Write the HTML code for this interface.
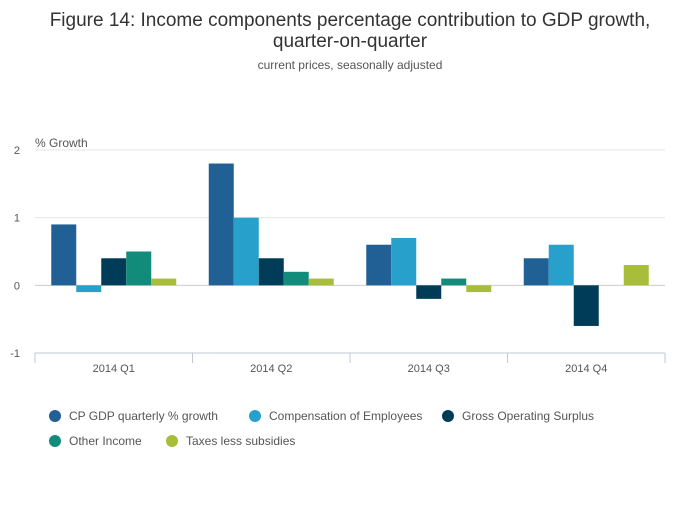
<!DOCTYPE html>
<html><head><meta charset="utf-8"><style>
body{margin:0;background:#fff;font-family:"Liberation Sans",sans-serif;}
svg text{font-family:"Liberation Sans",sans-serif;}
</style></head><body>
<svg id="chart" width="700" height="502">
<text x="350" y="26" text-anchor="middle" font-size="19" fill="#333">Figure 14: Income components percentage contribution to GDP growth,</text>
<text x="350" y="47" text-anchor="middle" font-size="19" fill="#333">quarter-on-quarter</text>
<text x="350" y="69" text-anchor="middle" font-size="12" fill="#555">current prices, seasonally adjusted</text>
<text x="35" y="147" font-size="12" fill="#555">% Growth</text>
<g id="grid"></g><g id="bars"></g><g id="xaxis"></g><g id="legend"></g>
</svg>
<script>
const categories=["2014 Q1","2014 Q2","2014 Q3","2014 Q4"];
const seriesNames=["CP GDP quarterly % growth","Compensation of Employees","Gross Operating Surplus","Other Income","Taxes less subsidies"];
const gdp=[0.9,1.8,0.6,0.4];
const comp=[-0.1,1.0,0.7,0.6];
const gos=[0.4,0.4,-0.2,-0.6];
const other=[0.5,0.2,0.1,0];
const taxes=[0.1,0.1,-0.1,0.3];
const yTicks=[2,1,0,-1];
const colors=["#206095","#27a0cc","#003c57","#118c7b","#a8bd3a"];
const series=[gdp,comp,gos,other,taxes];
const NS="http://www.w3.org/2000/svg";
const x0=35,x1=665,yTop=150,yBot=353,yMax=2,yMin=-1;
function y(v){return yTop+(yMax-v)/(yMax-yMin)*(yBot-yTop);}
const bw=(x1-x0)/categories.length;
function mk(tag,attrs,parent){const e=document.createElementNS(NS,tag);for(const k in attrs)e.setAttribute(k,attrs[k]);parent.appendChild(e);return e;}
const grid=document.getElementById('grid');
yTicks.forEach(t=>{
  const l=mk('line',{x1:x0,x2:x1,y1:y(t),y2:y(t),stroke:t===0?'#ccc':'#e6e6e6'},grid);
  
  
  const tx=mk('text',{x:20,y:y(t)+4,'font-size':11,fill:'#555','text-anchor':'end'},grid);
  tx.textContent=t;
  
  
});
const bars=document.getElementById('bars');
const barW=25,pad=(bw-barW*5)/2;
categories.forEach((c,i)=>{
  series.forEach((s,j)=>{
    const v=s[i];
    const bx=x0+i*bw+pad+j*barW;
    const r=mk('rect',{x:bx,y:Math.min(y(v),y(0)),width:barW,height:Math.abs(y(v)-y(0)),fill:colors[j]},bars);
    
    
  });
});
const xa=document.getElementById('xaxis');
const ax=mk('line',{x1:x0,x2:x1,y1:yBot,y2:yBot,stroke:'#bfc8d6'},xa);


for(let i=0;i<=categories.length;i++){
  const tk=mk('line',{x1:x0+i*bw,x2:x0+i*bw,y1:yBot,y2:yBot+10,stroke:'#bfc8d6'},xa);
  
  
}
categories.forEach((c,i)=>{
  const t=mk('text',{x:x0+(i+0.5)*bw,y:372,'font-size':11,fill:'#555','text-anchor':'middle'},xa);
  t.textContent=c;
  
  
});
const lg=document.getElementById('legend');
const lpos=[[55,416],[255,416],[448,416],[55,441],[172,441]];
seriesNames.forEach((n,j)=>{
  const g=mk('g',{},lg);
  
  
  mk('circle',{cx:lpos[j][0],cy:lpos[j][1],r:6,fill:colors[j]},g);
  const t=mk('text',{x:lpos[j][0]+14,y:lpos[j][1]+4,'font-size':12,fill:'#555'},g);
  t.textContent=n;
});
</script>
</body></html>
